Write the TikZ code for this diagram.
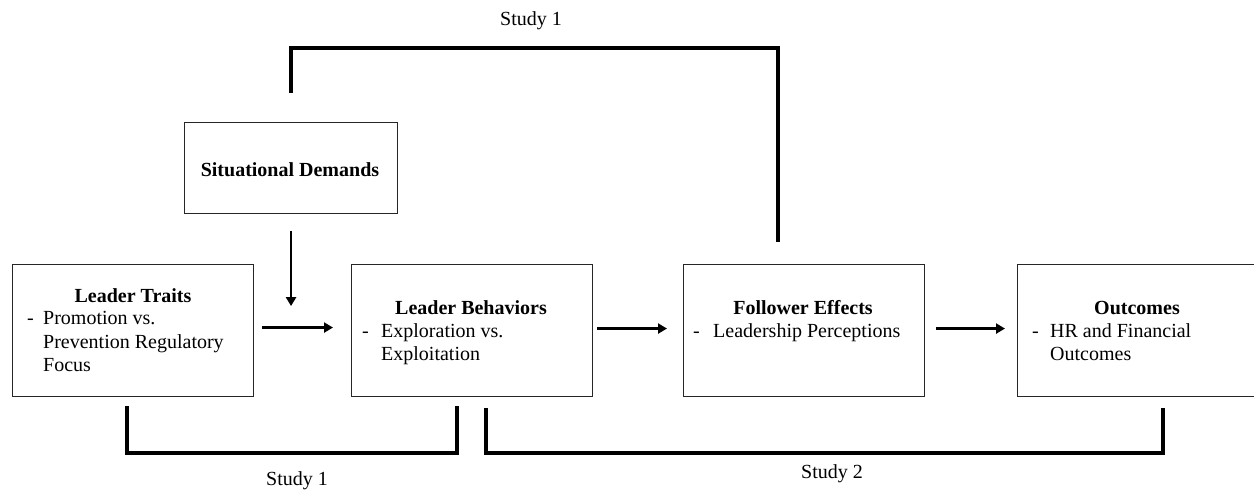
\documentclass[tikz,border=0pt]{standalone}
\usepackage{fontspec}
\setmainfont{Liberation Serif}
\usetikzlibrary{arrows.meta}
\begin{document}
\begin{tikzpicture}[x=1pt,y=-1pt,
 box/.style={draw=black!85, line width=1.1pt, minimum width=241pt, minimum height=132pt, inner sep=0pt, anchor=north west},
 title/.style={font=\fontsize{20}{23}\selectfont\bfseries, anchor=base, inner sep=0pt},
 txt/.style={font=\fontsize{20}{23}\selectfont, anchor=base west, inner sep=0pt},
 lbl/.style={font=\fontsize{20}{23}\selectfont, anchor=base, inner sep=0pt},
 flow/.style={line width=3pt, -{Triangle[length=9pt,width=10pt]}},
 bracket/.style={line width=3.5pt, line join=miter}]
\useasboundingbox (0,0) rectangle (1254,493);
% boxes
\node[box] (lt) at (12,264) {};
\node[box] (lb) at (351,264) {};
\node[box] (fe) at (683,264) {};
\node[box] (oc) at (1017,264) {};
\node[box, minimum width=213pt, minimum height=91pt] (sd) at (184,122) {};
% texts
\node[title] (ltt) at (133,302) {Leader Traits};
\node[txt] (ltd) at (27,324) {-};
\node[txt] (lt1) at (43,324) {Promotion vs.};
\node[txt] (lt2) at (43,348) {Prevention Regulatory};
\node[txt] (lt3) at (43,371) {Focus};
\node[title] (lbt) at (471,314) {Leader Behaviors};
\node[txt] (lbd) at (362,337) {-};
\node[txt] (lb1) at (381,337) {Exploration vs.};
\node[txt] (lb2) at (381,360) {Exploitation};
\node[title] (fet) at (803,314) {Follower Effects};
\node[txt] (fed) at (693,337) {-};
\node[txt] (fe1) at (713,337) {Leadership Perceptions};
\node[title] (oct) at (1137,314) {Outcomes};
\node[txt] (ocd) at (1032,337) {-};
\node[txt] (oc1) at (1050,337) {HR and Financial};
\node[txt] (oc2) at (1050,360) {Outcomes};
\node[title] (sdt) at (290,176) {Situational Demands};
\node[lbl] (s1top) at (531,25) {Study 1};
\node[lbl] (s1bot) at (297,485) {Study 1};
\node[lbl] (s2bot) at (832,478) {Study 2};
% arrows
\draw[flow] ([xshift=8pt,yshift=3pt]lt.east) -- ([xshift=-18pt,yshift=3pt]lb.west);
\draw[flow] ([xshift=4pt,yshift=2pt]lb.east) -- ([xshift=-16pt,yshift=2pt]fe.west);
\draw[flow] ([xshift=11pt,yshift=2pt]fe.east) -- ([xshift=-12pt,yshift=2pt]oc.west);
\draw[flow, line width=2.6pt] ([yshift=-17pt]sd.south) -- ([yshift=-92pt]sd.south);
% brackets
\draw[bracket] ([yshift=29pt]sd.north) -- ++(0,-45) -| ([xshift=-26pt,yshift=22pt]fe.north);
\draw[bracket] ([xshift=-6pt,yshift=-9pt]lt.south) -- ++(0,47) -| ([xshift=-15pt,yshift=-9pt]lb.south);
\draw[bracket] ([xshift=14pt,yshift=-11pt]lb.south) -- ++(0,45) -| ([xshift=25pt,yshift=-11pt]oc.south);
\end{tikzpicture}
\end{document}
